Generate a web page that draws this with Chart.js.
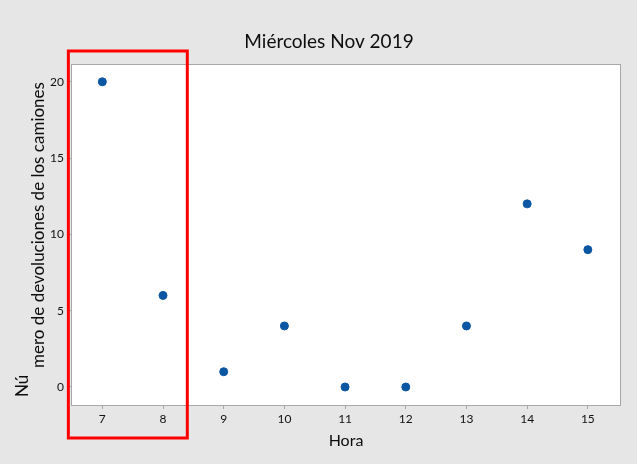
<!DOCTYPE html>
<html>
<head>
<meta charset="utf-8">
<script src="https://cdn.jsdelivr.net/npm/chart.js@4.4.1/dist/chart.umd.min.js"></script>
<style>
  html, body { margin: 0; padding: 0; background: #e6e6e6; }
  #wrap { width: 637px; height: 464px; }
</style>
</head>
<body>
<div id="wrap"><canvas id="graph_canvas" width="637" height="464"></canvas></div>
<script>
// datos
const horas = [7, 8, 9, 10, 11, 12, 13, 14, 15];
const devoluciones = [20, 6, 1, 4, 0, 0, 4, 12, 9];
const yTicks = [0, 5, 10, 15, 20];

const titulo = 'Miércoles Nov 2019';
const tituloX = 'Hora';
const tituloY = ['Nú', 'mero de devoluciones de los camiones'];

const FONT = 'Lato, "Noto Sans", sans-serif';

// fondo gris, area blanca, marco, textos y recuadro rojo
const decoracion = {
	id: 'decoracion',
	beforeDraw(chart) {
		const ctx = chart.ctx;
		const a = chart.chartArea;
		ctx.save();
		ctx.fillStyle = '#e6e6e6';
		ctx.fillRect(0, 0, chart.width, chart.height);
		ctx.fillStyle = '#ffffff';
		ctx.fillRect(a.left, a.top, a.right - a.left, a.bottom - a.top);
		ctx.restore();
	},
	afterDraw(chart) {
		const ctx = chart.ctx;
		const a = chart.chartArea;
		const xs = chart.scales.x;
		ctx.save();
		ctx.strokeStyle = '#a8a8a8';
		ctx.lineWidth = 1;
		ctx.strokeRect(a.left - 0.5, a.top - 0.5, a.right - a.left + 1, a.bottom - a.top + 1);

		ctx.fillStyle = '#0d0d0d';
		ctx.textAlign = 'center';
		ctx.textBaseline = 'middle';
		ctx.font = '19px ' + FONT;
		ctx.fillText(titulo, (a.left + a.right) / 2 - 17, 42);

		ctx.font = '16px ' + FONT;
		ctx.fillText(tituloX, (a.left + a.right) / 2, 441);

		// etiqueta Y en dos lineas, girada
		ctx.font = '17px ' + FONT;
		ctx.save();
		ctx.translate(23, 397);
		ctx.rotate(-Math.PI / 2);
		ctx.textAlign = 'left';
		ctx.fillText(tituloY[0], 0, 0);
		ctx.restore();
		ctx.save();
		ctx.translate(39, 368);
		ctx.rotate(-Math.PI / 2);
		ctx.textAlign = 'left';
		ctx.fillText(tituloY[1], 0, 0);
		ctx.restore();

		// recuadro rojo sobre las horas 7 y 8
		const x1 = xs.getPixelForValue(6.44);
		const x2 = xs.getPixelForValue(8.4);
		ctx.strokeStyle = '#ff0000';
		ctx.lineWidth = 3;
		ctx.strokeRect(x1, 51, x2 - x1, 387);
		ctx.restore();
	}
};

const ctx = document.getElementById('graph_canvas').getContext('2d');

new Chart(ctx, {
	type: 'scatter',
	data: {
		datasets: [{
			label: 'Devoluciones',
			data: horas.map((h, i) => ({ x: h, y: devoluciones[i] })),
			backgroundColor: '#0b57a4',
			borderColor: '#0b57a4',
			pointRadius: 4,
			pointHoverRadius: 4
		}]
	},
	options: {
		responsive: false,
		animation: false,
		layout: {
			padding: { top: 65, right: 17, left: 0, bottom: 0 }
		},
		plugins: {
			legend: { display: false },
			tooltip: { enabled: false }
		},
		scales: {
			x: {
				type: 'linear',
				min: 6.5,
				max: 15.53,
				afterBuildTicks: (scale) => { scale.ticks = horas.map(v => ({ value: v })); },
				afterFit: (scale) => { scale.height = 59; },
				border: { display: false },
				grid: {
					drawOnChartArea: false,
					tickLength: 4,
					color: '#a8a8a8'
				},
				ticks: {
					color: '#111111',
					padding: 3,
					maxRotation: 0,
					font: { family: FONT, size: 12 }
				}
			},
			y: {
				min: -1.18,
				max: 21.1,
				afterBuildTicks: (scale) => { scale.ticks = yTicks.map(v => ({ value: v })); },
				afterFit: (scale) => { scale.width = 72; },
				border: { display: false },
				grid: {
					drawOnChartArea: false,
					tickLength: 4,
					color: '#a8a8a8'
				},
				ticks: {
					color: '#111111',
					padding: 4,
					font: { family: FONT, size: 12 }
				}
			}
		}
	},
	plugins: [decoracion]
});
</script>
</body>
</html>
